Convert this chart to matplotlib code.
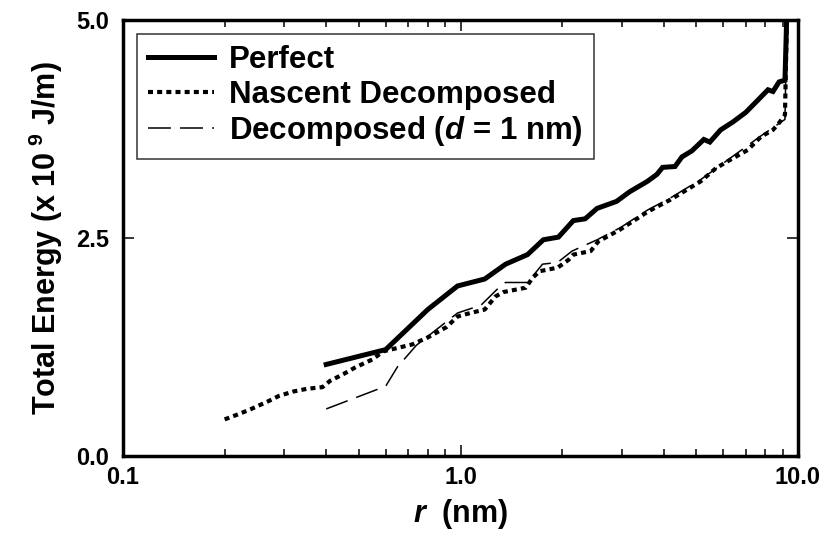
import matplotlib
matplotlib.use("Agg")
import matplotlib.pyplot as plt
from matplotlib.ticker import FixedLocator, LogLocator, NullFormatter, NullLocator

plt.rcParams["font.family"] = ["Liberation Sans", "DejaVu Sans"]
plt.rcParams["font.weight"] = "bold"
plt.rcParams["axes.labelweight"] = "bold"
plt.rcParams["mathtext.fontset"] = "custom"
plt.rcParams["mathtext.rm"] = "Liberation Sans:bold"
plt.rcParams["mathtext.bf"] = "Liberation Sans:bold"
plt.rcParams["mathtext.it"] = "Liberation Sans:italic:bold"

# values
perfect_r = [0.40, 0.60, 0.68, 0.80, 0.98, 1.18, 1.36, 1.58, 1.76, 1.95, 2.16,
             2.34, 2.54, 2.90, 3.17, 3.58, 3.82, 3.97, 4.32, 4.53, 4.85, 5.26,
             5.48, 5.90, 6.41, 7.00, 7.60, 8.15, 8.43, 8.79, 9.15, 9.30]
perfect_e = [1.05, 1.22, 1.42, 1.68, 1.95, 2.03, 2.20, 2.31, 2.48, 2.51, 2.70,
             2.72, 2.84, 2.92, 3.03, 3.15, 3.23, 3.31, 3.32, 3.43, 3.50, 3.63,
             3.60, 3.74, 3.83, 3.94, 4.08, 4.20, 4.18, 4.29, 4.31, 5.30]

nascent_r = [0.20, 0.22, 0.24, 0.27, 0.29, 0.32, 0.35, 0.39, 0.41, 0.45, 0.49,
             0.55, 0.59, 0.72, 0.80, 0.91, 0.98, 1.07, 1.18, 1.27, 1.34, 1.56,
             1.64, 1.72, 1.94, 2.09, 2.16, 2.43, 2.56, 2.98, 3.58, 4.19, 5.15,
             5.71, 6.32, 7.10, 7.76, 8.43, 8.79, 9.15, 9.30]
nascent_e = [0.42, 0.48, 0.54, 0.63, 0.69, 0.74, 0.77, 0.79, 0.86, 0.94, 1.02,
             1.11, 1.20, 1.28, 1.36, 1.48, 1.60, 1.64, 1.68, 1.83, 1.88, 1.93,
             2.05, 2.12, 2.16, 2.25, 2.31, 2.35, 2.46, 2.60, 2.80, 2.94, 3.15,
             3.30, 3.40, 3.51, 3.66, 3.74, 3.82, 3.91, 5.30]

decomp_r = [0.40, 0.60, 0.65, 0.74, 0.98, 1.15, 1.33, 1.36, 1.58, 1.75, 1.94,
            2.14, 2.54, 2.98, 3.58, 4.19, 5.15, 6.32, 7.76, 9.15, 9.30]
decomp_e = [0.54, 0.80, 1.02, 1.27, 1.64, 1.73, 1.97, 1.99, 1.99, 2.20, 2.22,
            2.35, 2.48, 2.62, 2.82, 2.96, 3.17, 3.42, 3.67, 3.86, 5.30]

x_ticks = [0.1, 1.0, 10.0]
x_labels = ["0.1", "1.0", "10.0"]
y_ticks = [0.0, 2.5, 5.0]
y_labels = ["0.0", "2.5", "5.0"]

fig, ax = plt.subplots(figsize=(8.23, 5.38), dpi=100)
fig.subplots_adjust(left=0.1495, right=0.9696, bottom=0.1524, top=0.9628)

ax.plot(perfect_r, perfect_e, color="black", lw=3.6,
        solid_joinstyle="miter", label="Perfect")
ax.plot(nascent_r, nascent_e, color="black", lw=3.0, dashes=(1.2, 1.0),
        dash_capstyle="butt", label="Nascent Decomposed")
ax.plot(decomp_r, decomp_e, color="black", lw=1.1, dashes=(15, 6),
        label="Decomposed ($d$ = 1 nm)")

ax.set_xscale("log")
ax.set_xlim(0.1, 10.0)
ax.set_ylim(0, 5.0)

ax.xaxis.set_major_locator(FixedLocator(x_ticks))
ax.set_xticklabels(x_labels)
ax.xaxis.set_minor_locator(LogLocator(base=10, subs=range(2, 10)))
ax.xaxis.set_minor_formatter(NullFormatter())
ax.set_yticks(y_ticks)
ax.set_yticklabels(y_labels)
ax.yaxis.set_minor_locator(NullLocator())

ax.tick_params(which="both", direction="in", top=True, right=True, width=1.1,
               labelsize=17)
ax.tick_params(which="major", length=8)
ax.tick_params(which="minor", length=5)
ax.tick_params(axis="x", which="major", pad=7)
ax.tick_params(axis="y", which="major", pad=10)
for s in ax.spines.values():
    s.set_linewidth(2.5)

ax.set_xlabel("$r$  (nm)", fontsize=22, fontweight="bold", labelpad=6)
ax.set_ylabel("Total Energy (x 10$^{\\ 9}$ J/m)", fontsize=22,
              fontweight="bold", labelpad=8)

leg = ax.legend(loc="upper left", fontsize=22.5, frameon=True, fancybox=False,
                handlelength=2.1, handletextpad=0.5, labelspacing=0.15,
                borderpad=0.35, borderaxespad=0.45)
leg.get_frame().set_edgecolor("black")
leg.get_frame().set_linewidth(1.1)

fig.savefig("out.png", dpi=100)
plt.close(fig)
